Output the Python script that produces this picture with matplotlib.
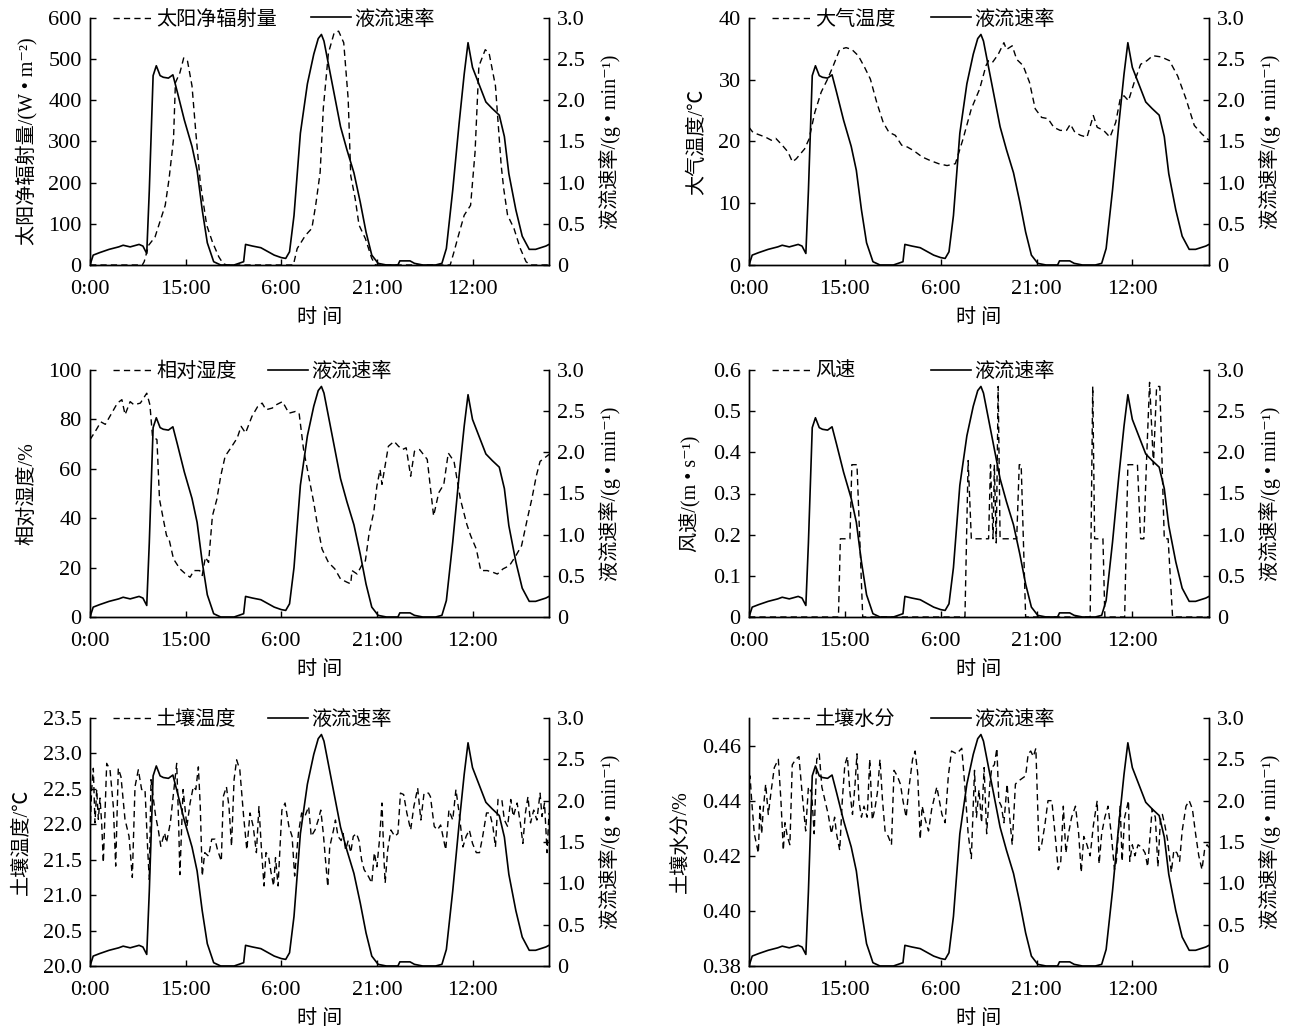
import matplotlib
matplotlib.use("Agg")
import matplotlib.pyplot as plt
from matplotlib.lines import Line2D

plt.rcParams['font.family'] = ['Liberation Serif', 'Noto Sans CJK SC', 'DejaVu Sans']
plt.rcParams['axes.linewidth'] = 1.0

# ===================== data (hours since start, 3 days) =====================
hour_ticks = [0, 15, 30, 45, 60]
hour_labels = ['0:00', '15:00', '6:00', '21:00', '12:00']

# sap flow rate, g/min (same series in every panel)
sap_t = [0.0, 0.5, 1.5, 3.0, 4.5, 5.2, 6.3, 7.7, 8.3, 8.9,
         9.3, 9.9, 10.4, 11.0, 11.5, 12.3, 13.0, 13.7, 14.8, 16.0,
         16.8, 17.6, 18.4, 19.4, 20.5, 22.6, 24.1, 24.4, 25.5, 26.8,
         28.9, 30.0, 30.7, 31.3, 32.0, 33.0, 34.1, 35.1, 35.8, 36.3,
         36.7, 37.2, 38.3, 39.3, 40.3, 41.4, 42.4, 43.3, 44.2, 45.2,
         46.5, 48.3, 48.6, 50.2, 50.9, 52.2, 54.2, 55.2, 55.9, 56.9,
         57.9, 58.7, 59.3, 60.0, 61.0, 62.1, 63.1, 64.2, 65.0, 65.7,
         66.8, 67.8, 68.9, 69.9, 71.5, 72.0]
sap_v = [0.0, 0.12, 0.15, 0.19, 0.22, 0.24, 0.22, 0.25, 0.23, 0.14,
         0.9, 2.3, 2.42, 2.3, 2.28, 2.27, 2.31, 2.1, 1.76, 1.44,
         1.15, 0.67, 0.27, 0.04, 0.0, 0.0, 0.04, 0.25, 0.23, 0.21,
         0.12, 0.09, 0.08, 0.16, 0.6, 1.6, 2.2, 2.56, 2.75, 2.8,
         2.72, 2.52, 2.08, 1.68, 1.4, 1.12, 0.76, 0.4, 0.12, 0.02,
         0.0, 0.0, 0.05, 0.05, 0.02, 0.0, 0.0, 0.02, 0.2, 0.91,
         1.72, 2.32, 2.7, 2.4, 2.2, 1.98, 1.9, 1.82, 1.56, 1.11,
         0.67, 0.35, 0.19, 0.19, 0.23, 0.25]

# net solar radiation, W/m2
rad_t = [0, 8.2, 8.5, 9.2, 10.2, 10.8, 11.8, 12.4, 13.1, 13.4,
         14.1, 14.7, 15.3, 16.0, 16.6, 17.3, 18.3, 19.2, 20.2, 20.9,
         21.5, 31.9, 32.5, 33.8, 34.8, 35.4, 36.1, 36.6, 37.4, 38.3,
         39.0, 39.8, 40.5, 40.9, 41.6, 42.2, 43.2, 44.2, 44.8, 56.5,
         57.1, 57.8, 58.7, 59.7, 60.4, 61.0, 62.0, 62.6, 63.6, 64.5,
         64.9, 65.5, 66.5, 67.5, 68.4, 69.1, 72]
rad_v = [0, 0, 8, 48, 68, 97, 145, 209, 306, 443,
         467, 503, 495, 435, 322, 201, 97, 56, 20, 3,
         0, 0, 40, 72, 89, 145, 225, 381, 515, 564,
         568, 540, 403, 217, 161, 97, 64, 16, 0, 0,
         32, 72, 121, 145, 274, 483, 523, 515, 435, 242,
         185, 121, 89, 40, 8, 0, 0]

# air temperature, C
air_t = [0, 0.6, 1.3, 2.6, 3.5, 4.2, 5.2, 6.1, 6.8, 7.4,
         8.7, 9.4, 10.3, 11.3, 12.3, 13.2, 14.2, 15.2, 16.1, 17.1,
         18.1, 19.0, 20.0, 21.0, 21.9, 22.9, 23.9, 24.8, 25.8, 27.1,
         28.4, 29.7, 31.0, 32.3, 33.5, 34.8, 36.1, 37.1, 37.5, 38.1,
         39.0, 39.9, 40.3, 41.2, 41.9, 42.9, 43.9, 44.8, 45.8, 46.8,
         47.7, 48.7, 49.7, 50.3, 51.0, 51.9, 52.9, 53.9, 54.5, 55.5,
         56.5, 57.4, 58.1, 58.7, 59.4, 60.3, 61.3, 62.3, 63.2, 64.5,
         65.8, 67.1, 68.4, 69.7, 70.9, 72.0]
air_v = [22.3, 21.5, 21.2, 20.7, 20.2, 20.5, 19.4, 18.3, 16.7, 17.2,
         18.8, 20.4, 24.7, 28.0, 30.1, 32.3, 34.9, 35.2, 34.9, 33.9,
         32.0, 30.1, 26.3, 23.1, 21.5, 21.0, 19.4, 19.1, 18.5, 17.5,
         16.9, 16.4, 16.1, 16.4, 20.4, 25.3, 28.5, 32.3, 33.1, 32.8,
         34.1, 36.0, 34.9, 35.5, 33.3, 32.3, 29.6, 25.3, 23.9, 23.7,
         22.3, 21.8, 21.8, 22.8, 21.5, 21.0, 20.7, 24.2, 22.3, 21.8,
         20.7, 23.1, 26.9, 27.4, 26.6, 29.6, 32.5, 33.1, 33.9, 33.7,
         33.1, 30.6, 26.9, 22.6, 21.2, 20.2]

# relative humidity, %
hum_t = [0, 0.8, 1.7, 2.4, 3.4, 4.3, 5.0, 5.5, 6.3, 6.9,
         7.9, 8.9, 9.4, 9.8, 10.5, 10.9, 11.5, 12.0, 12.4, 13.1,
         14.1, 15.0, 15.7, 16.3, 17.2, 17.6, 18.1, 18.6, 19.2, 19.9,
         20.5, 21.2, 22.1, 23.1, 23.7, 24.4, 25.4, 26.3, 27.0, 27.6,
         28.6, 29.2, 30.2, 31.2, 32.2, 32.8, 33.5, 34.1, 35.1, 35.7,
         36.4, 37.4, 38.4, 39.3, 40.3, 40.9, 41.1, 41.9, 42.6, 43.2,
         43.8, 44.5, 45.0, 45.5, 45.8, 46.8, 47.7, 48.4, 49.0, 49.6,
         50.3, 50.9, 51.7, 52.9, 53.9, 54.7, 55.5, 56.2, 57.1, 58.1,
         59.1, 59.7, 60.6, 61.3, 62.3, 63.2, 63.9, 64.8, 65.8, 66.8,
         67.7, 68.7, 69.3, 70.0, 70.6, 72.0]
hum_v = [71.8, 75, 79, 78, 82.5, 86.6, 88, 81.9, 87.2, 85.9,
         86.6, 90.6, 85.9, 73.2, 71.8, 47.7, 39.6, 33, 31.5, 23.5,
         19.5, 17.4, 16.1, 18.8, 18.8, 16.8, 24.2, 22.1, 40.9, 47.7,
         57, 65.1, 68.5, 72.5, 77.2, 74.5, 81.2, 85.2, 86.6, 83.9,
         84.6, 85.9, 87.2, 82.5, 83.2, 82.5, 67.8, 59.7, 46.3, 36.9,
         27.5, 22.1, 19.5, 15.4, 14.1, 13.4, 18.8, 17.4, 20.8, 22.8,
         34.2, 42.3, 53, 59.7, 53.7, 69.1, 71.1, 69.1, 67.8, 68.5,
         57, 67.1, 67.8, 63.8, 40.9, 50.3, 53.7, 66.4, 63, 47.7,
         37.6, 33, 27.5, 18.8, 18.8, 18.1, 17.4, 19.5, 20.8, 24.8,
         28.9, 40.9, 47.7, 57, 63, 65.8]

# wind speed, m/s
wind_t = [0, 14.0, 14.3, 15.8, 16.1, 16.9, 17.8, 33.8, 34.3, 34.8,
          37.5, 37.8, 38.2, 38.4, 38.7, 39.0, 39.3, 39.6, 41.9, 42.3,
          42.6, 43.3, 53.4, 53.8, 54.1, 55.4, 55.7, 58.8, 59.3, 60.8,
          61.3, 61.8, 62.2, 62.7, 63.3, 63.8, 64.3, 65.0, 65.6, 66.3, 72]
wind_v = [0, 0, 0.19, 0.19, 0.37, 0.37, 0, 0, 0.38, 0.19,
          0.19, 0.37, 0.19, 0.37, 0.18, 0.56, 0.19, 0.19, 0.19, 0.37,
          0.37, 0, 0, 0.56, 0.19, 0.19, 0, 0, 0.37, 0.37,
          0.19, 0.19, 0.37, 0.57, 0.37, 0.56, 0.56, 0.19, 0.19, 0, 0]

# soil temperature, C
soilT_t = [0.0, 0.26, 0.52, 0.78, 1.05, 1.31, 1.57, 1.83, 2.09, 2.62,
           3.14, 3.66, 4.03, 4.44, 4.86, 5.49, 6.12, 6.64, 7.06, 7.58,
           8.10, 8.63, 9.05, 9.30, 9.57, 9.83, 10.3, 10.7, 11.1, 11.7,
           12.0, 12.6, 13.1, 13.6, 13.9, 14.1, 14.6, 15.2, 15.7, 16.2,
           16.6, 17.0, 17.3, 17.6, 18.0, 18.6, 19.1, 19.6, 20.0, 20.6,
           20.9, 21.4, 21.8, 22.2, 22.6, 23.0, 23.5, 24.1, 24.6, 25.1,
           25.6, 26.1, 26.5, 26.9, 27.3, 27.6, 28.0, 28.4, 28.8, 29.1,
           29.5, 30.1, 30.6, 31.2, 31.7, 32.1, 32.7, 33.2, 33.7, 34.3,
           34.7, 35.3, 35.8, 36.2, 36.6, 36.9, 37.3, 37.6, 38.2, 38.5,
           38.9, 39.4, 39.7, 40.1, 40.5, 40.9, 41.3, 41.8, 42.2, 42.6,
           43.0, 43.7, 44.2, 44.6, 45.0, 45.4, 45.8, 46.1, 46.3, 46.7,
           47.2, 47.8, 48.3, 48.7, 49.2, 49.7, 50.3, 50.8, 51.4, 51.9,
           52.4, 53.1, 53.4, 54.0, 54.5, 55.0, 55.8, 56.3, 56.9, 57.4,
           57.9, 58.5, 59.0, 59.5, 60.0, 60.6, 61.1, 61.6, 62.2, 62.7,
           63.2, 63.6, 64.0, 64.6, 65.0, 65.5, 66.0, 66.4, 67.0, 67.5,
           67.9, 68.3, 68.7, 69.1, 69.6, 70.1, 70.6, 70.9, 71.3, 71.7, 72.0]
soilT_v = [21.88, 22.49, 22.79, 22.02, 22.49, 22.07, 22.37, 22.02, 21.46, 22.86,
           22.77, 22.25, 21.41, 22.79, 22.67, 22.07, 21.83, 21.25, 22.53, 22.77,
           22.49, 22.49, 21.64, 21.22, 22.63, 22.44, 22.11, 21.93, 21.69, 21.88,
           21.74, 22.02, 22.44, 22.86, 22.02, 21.29, 22.49, 21.97, 22.30, 22.53,
           22.49, 22.81, 22.25, 21.27, 21.60, 21.55, 21.79, 21.79, 21.64, 21.48,
           22.39, 22.53, 22.25, 21.69, 22.63, 22.91, 22.77, 22.11, 21.64, 22.16,
           21.97, 21.60, 22.25, 21.64, 21.13, 21.60, 21.55, 21.32, 21.13, 21.53,
           21.13, 22.20, 22.30, 21.97, 21.83, 21.27, 21.88, 22.16, 22.11, 22.25,
           21.83, 21.92, 22.06, 22.20, 21.87, 21.54, 21.12, 21.68, 21.92, 22.06,
           21.83, 21.77, 21.87, 21.64, 21.77, 21.60, 21.83, 21.87, 21.77, 21.50,
           21.36, 21.26, 21.17, 21.60, 21.40, 21.77, 22.30, 21.54, 21.17, 21.64,
           21.92, 21.83, 21.87, 22.44, 22.42, 22.16, 21.92, 22.25, 22.51, 22.06,
           22.44, 22.44, 22.39, 21.97, 21.92, 21.99, 21.64, 22.20, 22.06, 22.49,
           22.16, 21.68, 21.83, 21.92, 21.73, 21.60, 21.60, 21.83, 22.16, 22.16,
           21.97, 21.68, 22.35, 22.35, 22.06, 21.97, 22.35, 22.11, 22.30, 22.02,
           21.73, 22.16, 22.39, 22.02, 22.20, 22.06, 22.44, 22.11, 22.30, 21.60, 22.16]

# soil moisture, %
soilM_t = [0.0, 0.16, 0.42, 0.83, 1.2, 1.46, 1.72, 1.98, 2.24, 2.61,
           3.02, 3.44, 3.96, 4.59, 5.0, 5.37, 5.63, 6.0, 6.4, 6.77,
           7.3, 7.82, 8.3, 8.87, 9.3, 9.8, 10.2, 10.6, 11.0, 11.4,
           11.9, 12.4, 12.9, 13.4, 13.7, 14.2, 14.6, 15.0, 15.4, 15.8,
           16.2, 16.6, 16.9, 17.2, 17.6, 18.0, 18.5, 18.9, 19.3, 19.7,
           20.1, 20.5, 20.9, 21.3, 21.8, 22.3, 22.7, 23.2, 23.7, 24.1,
           24.6, 25.0, 25.6, 26.0, 26.4, 26.8, 27.1, 27.6, 28.1, 28.6,
           29.4, 30.2, 30.7, 31.2, 31.7, 32.5, 33.3, 33.8, 34.3, 34.8,
           35.3, 35.6, 36.0, 36.4, 36.8, 37.2, 37.7, 38.0, 38.4, 38.8,
           39.1, 39.5, 39.9, 40.4, 40.8, 41.2, 41.7, 42.1, 42.7, 43.3,
           43.7, 44.1, 44.5, 44.9, 45.4, 45.8, 46.3, 46.8, 47.4, 47.9,
           48.4, 48.8, 49.2, 49.6, 50.0, 50.5, 51.1, 51.6, 52.0, 52.4,
           52.9, 53.4, 53.9, 54.5, 54.8, 55.2, 55.7, 56.2, 56.7, 57.2,
           57.5, 58.1, 58.4, 58.8, 59.4, 59.6, 60.0, 60.4, 60.9, 61.5,
           62.0, 62.4, 62.8, 63.1, 63.6, 64.0, 64.4, 64.7, 65.1, 65.5,
           66.1, 66.5, 67.0, 67.4, 67.8, 68.4, 68.9, 69.4, 69.9, 70.4,
           70.9, 71.3, 71.7, 72.0]
soilM_v = [0.448, 0.449, 0.440, 0.428, 0.424, 0.421, 0.438, 0.428, 0.437, 0.446,
           0.435, 0.443, 0.452, 0.455, 0.440, 0.422, 0.432, 0.427, 0.424, 0.453,
           0.455, 0.456, 0.443, 0.429, 0.445, 0.443, 0.428, 0.455, 0.457, 0.445,
           0.440, 0.435, 0.428, 0.434, 0.428, 0.422, 0.440, 0.453, 0.456, 0.443,
           0.435, 0.446, 0.457, 0.440, 0.434, 0.438, 0.434, 0.455, 0.433, 0.437,
           0.443, 0.455, 0.440, 0.429, 0.427, 0.424, 0.451, 0.449, 0.446, 0.440,
           0.434, 0.444, 0.455, 0.458, 0.450, 0.426, 0.438, 0.433, 0.429, 0.437,
           0.445, 0.435, 0.432, 0.449, 0.458, 0.457, 0.459, 0.445, 0.428, 0.419,
           0.451, 0.434, 0.444, 0.432, 0.452, 0.428, 0.446, 0.452, 0.453, 0.459,
           0.440, 0.438, 0.432, 0.446, 0.434, 0.424, 0.446, 0.447, 0.448, 0.449,
           0.457, 0.458, 0.456, 0.459, 0.422, 0.424, 0.431, 0.440, 0.440, 0.428,
           0.415, 0.418, 0.438, 0.421, 0.428, 0.434, 0.438, 0.428, 0.414, 0.427,
           0.424, 0.420, 0.431, 0.440, 0.417, 0.428, 0.434, 0.438, 0.428, 0.415,
           0.418, 0.438, 0.418, 0.434, 0.440, 0.418, 0.424, 0.420, 0.424, 0.423,
           0.421, 0.416, 0.428, 0.437, 0.434, 0.416, 0.433, 0.435, 0.431, 0.426,
           0.414, 0.422, 0.421, 0.418, 0.429, 0.438, 0.440, 0.437, 0.428, 0.420,
           0.415, 0.422, 0.424, 0.423]

# ===================== layout =====================
W, H = 1296, 1031
fig = plt.figure(figsize=(W / 100, H / 100), dpi=100)

panels = [
    dict(t=rad_t, v=rad_v, name='太阳净辐射量', ylabel='太阳净辐射量/(W • m⁻²)',
         ylim=(0, 600), yticks=[0, 100, 200, 300, 400, 500, 600],
         ylabels=['0', '100', '200', '300', '400', '500', '600'],
         box=(90, 18, 549, 265), leg2=221),
    dict(t=air_t, v=air_v, name='大气温度', ylabel='大气温度/℃',
         ylim=(0, 40), yticks=[0, 10, 20, 30, 40],
         ylabels=['0', '10', '20', '30', '40'],
         box=(749, 18, 1209, 265), leg2=182),
    dict(t=hum_t, v=hum_v, name='相对湿度', ylabel='相对湿度/%',
         ylim=(0, 100), yticks=[0, 20, 40, 60, 80, 100],
         ylabels=['0', '20', '40', '60', '80', '100'],
         box=(90, 370, 549, 617), leg2=178),
    dict(t=wind_t, v=wind_v, name='风速', ylabel='风速/(m • s⁻¹)',
         ylim=(0, 0.6), yticks=[0, 0.1, 0.2, 0.3, 0.4, 0.5, 0.6],
         ylabels=['0', '0.1', '0.2', '0.3', '0.4', '0.5', '0.6'],
         box=(749, 370, 1209, 617), leg2=182),
    dict(t=soilT_t, v=soilT_v, name='土壤温度', ylabel='土壤温度/℃',
         ylim=(20, 23.5), yticks=[20, 20.5, 21, 21.5, 22, 22.5, 23, 23.5],
         ylabels=['20.0', '20.5', '21.0', '21.5', '22.0', '22.5', '23.0', '23.5'],
         box=(90, 718, 549, 966), leg2=178),
    dict(t=soilM_t, v=soilM_v, name='土壤水分', ylabel='土壤水分/%',
         ylim=(0.38, 0.47), yticks=[0.38, 0.40, 0.42, 0.44, 0.46],
         ylabels=['0.38', '0.40', '0.42', '0.44', '0.46'],
         box=(749, 718, 1209, 966), leg2=182),
]

sap_ticks = [0, 0.5, 1.0, 1.5, 2.0, 2.5, 3.0]
sap_labels = ['0', '0.5', '1.0', '1.5', '2.0', '2.5', '3.0']

dash = (0, (4.5, 3))
tick_fs = 16
label_fs = 14.5

for p in panels:
    l, t, r, b = p['box']
    w, h = r - l, b - t
    ax = fig.add_axes([l / W, 1 - b / H, w / W, h / H])
    ax2 = ax.twinx()

    ax.plot(p['t'], p['v'], color='black', ls=dash, lw=1.0)
    ax2.plot(sap_t, sap_v, color='black', lw=1.2)

    ax.set_xlim(0, 72)
    ax.set_ylim(*p['ylim'])
    ax.set_xticks(hour_ticks, hour_labels)
    ax.set_yticks(p['yticks'], p['ylabels'])
    ax2.set_ylim(0, 3.0)
    ax2.set_yticks(sap_ticks, sap_labels)

    for a in (ax, ax2):
        a.spines['top'].set_visible(False)
        a.tick_params(direction='in', length=4, width=1, labelsize=tick_fs, pad=6)
    ax.tick_params(axis='x', pad=11)

    ax.set_ylabel(p['ylabel'], fontsize=label_fs, labelpad=8)
    ax2.set_ylabel('液流速率/(g • min⁻¹)', fontsize=label_fs, labelpad=10)
    ax.set_xlabel('时 间', fontsize=label_fs, labelpad=7)

    h1 = Line2D([], [], color='black', ls=dash, lw=1.0)
    h2 = Line2D([], [], color='black', lw=1.2)
    kw = dict(loc='center left', frameon=False, fontsize=label_fs, handlelength=2.0,
              handletextpad=0.15, borderpad=0, borderaxespad=0)
    leg1 = ax2.legend([h1], [p['name']], bbox_to_anchor=(23 / w, 1 - 2 / h), **kw)
    ax2.add_artist(leg1)
    ax2.legend([h2], ['液流速率'], bbox_to_anchor=(p['leg2'] / w, 1 - 2 / h), **kw)

fig.savefig('out.png', dpi=100)
